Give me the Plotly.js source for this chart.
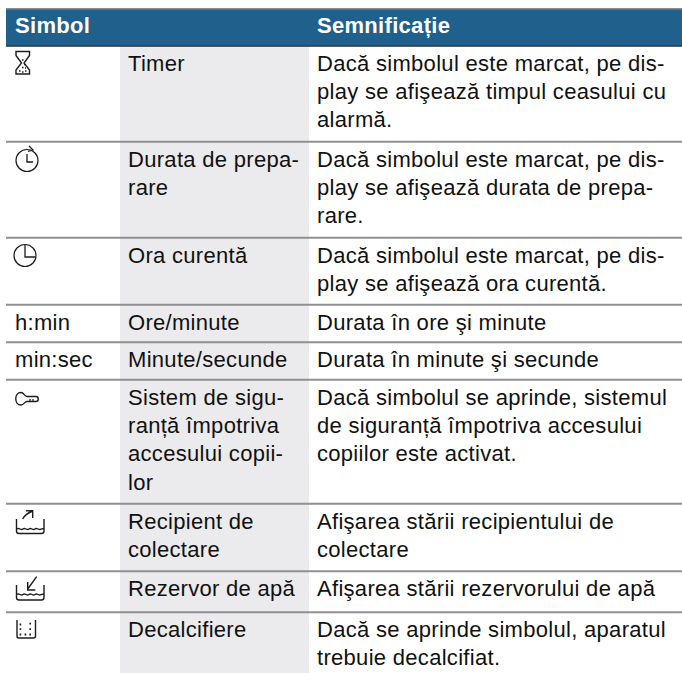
<!DOCTYPE html>
<html>
<head>
<meta charset="utf-8">
<script src="https://cdn.plot.ly/plotly-3.0.1.min.js"></script>
<style>
html,body{margin:0;padding:0;background:#fff}
#c{width:682px;height:673px}
.textpoint text{letter-spacing:0.3px}
</style>
</head>
<body>
<div id="c"></div>
<script>
var headers = ["Simbol", "Semnificație"];
var symbols = [[""], [""], [""], ["h:min"], ["min:sec"], [""], [""], [""], [""]];
var names = [
  ["Timer"],
  ["Durata de prepa-", "rare"],
  ["Ora curentă"],
  ["Ore/minute"],
  ["Minute/secunde"],
  ["Sistem de sigu-", "ranță împotriva", "accesului copii-", "lor"],
  ["Recipient de", "colectare"],
  ["Rezervor de apă"],
  ["Decalcifiere"]
];
var meanings = [
  ["Dacă simbolul este marcat, pe dis-", "play se afişează timpul ceasului cu", "alarmă."],
  ["Dacă simbolul este marcat, pe dis-", "play se afişează durata de prepa-", "rare."],
  ["Dacă simbolul este marcat, pe dis-", "play se afişează ora curentă."],
  ["Durata în ore şi minute"],
  ["Durata în minute şi secunde"],
  ["Dacă simbolul se aprinde, sistemul", "de siguranță împotriva accesului", "copiilor este activat."],
  ["Afişarea stării recipientului de", "colectare"],
  ["Afişarea stării rezervorului de apă"],
  ["Dacă se aprinde simbolul, aparatul", "trebuie decalcifiat."]
];
var rowEdges = [46, 142, 238, 305, 342.5, 380, 504, 571.5, 612.5, 673];
var columnX = [15, 128, 317];
var greyColumn = [120, 309];
var headerBand = [9, 46];
var pitch = 28.4, firstLine = 19;

var shapes = [];
function rect(x0, x1, y0, y1, c) {
  shapes.push({type:'rect', xref:'x', yref:'y', x0:x0, x1:x1, y0:y0, y1:y1, line:{width:0}, fillcolor:c, layer:'below'});
}
function hline(y, w, c) {
  shapes.push({type:'line', xref:'x', yref:'y', x0:6, x1:682, y0:y, y1:y, line:{width:w, color:c}});
}
rect(greyColumn[0], greyColumn[1], rowEdges[0], rowEdges[rowEdges.length-1], '#ebebed');
rect(6, 682, headerBand[0], headerBand[1], '#20608c');
hline(8.8, 1.5, '#8a8a8a');
hline(46.2, 1, '#101820');
for (var i = 1; i < rowEdges.length - 1; i++) hline(rowEdges[i] - 0.2, 2, '#8f8f93');

var ink = '#1c1c1c';
function icon(d, w) {
  shapes.push({type:'path', xref:'x', yref:'y', path:d, line:{width:w||1.3, color:ink}, fillcolor:'rgba(0,0,0,0)'});
}
function circle(cx, cy, r) {
  shapes.push({type:'circle', xref:'x', yref:'y', x0:cx-r, x1:cx+r, y0:cy-r, y1:cy+r, line:{width:1.2, color:ink}, fillcolor:'rgba(0,0,0,0)'});
}
// hourglass
icon('M16,51.5 H29.5 V55.5 L24,63 L29.5,70 V74 H16 V70 L21.5,63 L16,55.5 Z', 1.4);
icon('M22,60 H23.5 M19,71 H20.5 M22,72 H23.5 M25,71 H26.5 M22,67.5 H23.5 M24,64.5 H25 M25,68 H26', 1.7);
// clock with return arrow
circle(27, 160.5, 11);
icon('M27,154 V162 H33');
icon('M29,146 L33,150 L28,151.5');
// clock
circle(25, 255.5, 11);
icon('M25,245 V257 H35');
// key
icon('M21,392.5 C14,392.5 14,405 21,405 C24,405 24.5,401.5 27,401.5 H36 C39,401.5 39,396.5 36,396.5 H27 C24.5,396.5 24,392.5 21,392.5 Z', 1.4);
icon('M30,401.5 V399 M33,401.5 V399', 1.2);
// collector tank
icon('M16.5,519 V531 Q16.5,533.5 19,533.5 H41.5 Q44,533.5 44,531 V519', 1.4);
icon('M17,529 C19,527 21,531 23,529 C25,527 27,531 29,529 C31,527 33,531 35,529 C37,527 39,531 41,529 L44,528.5');
icon('M22.7,519 C24,516 28,513 32.7,511 M26,510.7 H32.7 V518', 1.4);
// water tank
icon('M16.5,585 V597.5 Q16.5,600 19,600 H41.5 Q44,600 44,597.5 V585', 1.4);
icon('M17,594.5 C19,592.5 21,596.5 23,594.5 C25,592.5 27,596.5 29,594.5 C31,592.5 33,596.5 35,594.5 C37,592.5 39,596.5 41,594.5 L44,594');
icon('M36.7,576.7 L27.7,589 M27.7,582 V590 H35.3', 1.4);
// descale
icon('M17,620 V636 Q17,638 19,638 H33.5 Q35.5,638 35.5,636 V620', 1.4);
icon('M19.6,624.5 H21.2 M29.4,623.7 H31 M19.6,629.2 H21.2 M29.4,629.2 H31 M19.6,634.5 H21.2 M24.6,634.5 H26.2 M29.4,634.5 H31', 1.8);

var tx = [], ty = [], tt = [];
function addCol(col, x) {
  col.forEach(function (lines, r) {
    lines.forEach(function (s, k) {
      if (!s) return;
      tx.push(x); ty.push(rowEdges[r] + firstLine + k * pitch); tt.push(s);
    });
  });
}
addCol(symbols, columnX[0]);
addCol(names, columnX[1]);
addCol(meanings, columnX[2]);

var body = {type:'scatter', mode:'text', x:tx, y:ty, text:tt, textposition:'middle right',
  textfont:{family:'"Liberation Sans", Arial, sans-serif', size:22, color:'#111'}, hoverinfo:'skip', cliponaxis:false, showlegend:false};
var head = {type:'scatter', mode:'text', x:[columnX[0], columnX[2]], y:[27.5, 27.5], text:headers, textposition:'middle right',
  textfont:{family:'"Liberation Sans", Arial, sans-serif', size:22, color:'#fff', weight:700}, hoverinfo:'skip', cliponaxis:false, showlegend:false};

Plotly.newPlot('c', [body, head], {
  width:682, height:673, margin:{l:0, r:0, t:0, b:0},
  paper_bgcolor:'#fff', plot_bgcolor:'#fff', showlegend:false,
  xaxis:{range:[0,682], visible:false, fixedrange:true},
  yaxis:{range:[673,0], visible:false, fixedrange:true},
  shapes:shapes
}, {displayModeBar:false, staticPlot:true});
</script>
</body>
</html>
